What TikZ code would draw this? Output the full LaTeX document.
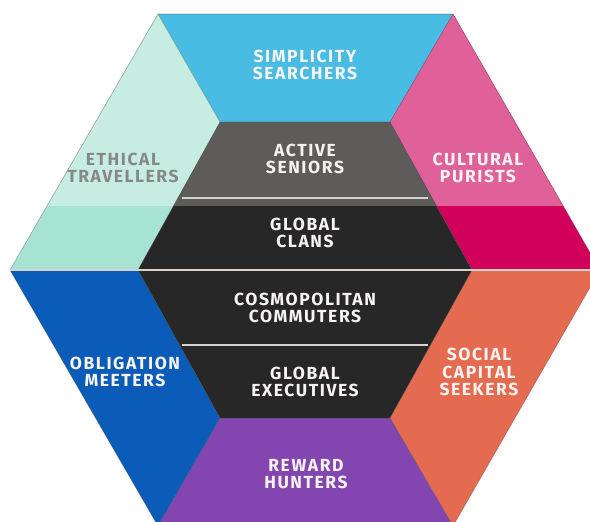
\documentclass[tikz,border=0pt]{standalone}
\usepackage{fontspec}
\newfontfamily\segfont[LetterSpace=9]{Fira Sans}

\definecolor{simplicity}{HTML}{48BCE3}
\definecolor{ethicaltop}{HTML}{C7ECE2}
\definecolor{ethical}{HTML}{A6E3D3}
\definecolor{culturaltop}{HTML}{E0609A}
\definecolor{cultural}{HTML}{D1005B}
\definecolor{seniors}{HTML}{5D5C5A}
\definecolor{core}{HTML}{272727}
\definecolor{obligation}{HTML}{0B5CB9}
\definecolor{reward}{HTML}{8346B0}
\definecolor{social}{HTML}{E56B50}
\definecolor{labelwhite}{HTML}{F7F3F2}
\definecolor{labelgray}{HTML}{868886}
\definecolor{divgray}{HTML}{D6D3CE}

\tikzset{
  edge/.style={draw=black!70, draw opacity=0.45, line width=0.6pt},
  segment/.style={font=\segfont\bfseries\fontsize{17.5}{17.5}\selectfont, text=labelwhite, align=center, inner sep=0pt},
  divider/.style={draw=divgray, line width=1.8pt},
}

\begin{document}
\begin{tikzpicture}[x=1pt,y=-1pt]
    \useasboundingbox (0,0) rectangle (590,522);
    \clip (0,0) rectangle (590,522);
    % outer hexagon
    \coordinate (o1) at (158,14);
    \coordinate (o2) at (453,14);
    \coordinate (o3) at (600,270);
    \coordinate (o4) at (453,526);
    \coordinate (o5) at (158,526);
    \coordinate (o6) at (10,270);
    % inner hexagon
    \coordinate (i1) at (220,122);
    \coordinate (i2) at (390,122);
    \coordinate (i3) at (472,270);
    \coordinate (i4) at (390,418);
    \coordinate (i5) at (220,418);
    \coordinate (i6) at (138,270);

    \fill[simplicity] (o1) -- (o2) -- (i2) -- (i1) -- cycle;
    \fill[cultural] (o2) -- (o3) -- (i3) -- (i2) -- cycle;
    \fill[social] (i3) -- (o3) -- (o4) -- (i4) -- cycle;
    \fill[reward] (i5) -- (i4) -- (o4) -- (o5) -- cycle;
    \fill[obligation] (o6) -- (i6) -- (i5) -- (o5) -- cycle;
    \fill[ethical] (o1) -- (i1) -- (i6) -- (o6) -- cycle;
    \fill[core] (i1) -- (i2) -- (i3) -- (i4) -- (i5) -- (i6) -- cycle;

    % lighter upper band
    \begin{scope}
        \clip (0,0) rectangle (590,205);
        \fill[ethicaltop] (o1) -- (i1) -- (i6) -- (o6) -- cycle;
        \fill[culturaltop] (o2) -- (o3) -- (i3) -- (i2) -- cycle;
        \fill[seniors] (i1) -- (i2) -- (i3) -- (i4) -- (i5) -- (i6) -- cycle;
    \end{scope}

    \draw[edge] (o1) -- (o2) -- (o3) -- (o4) -- (o5) -- (o6) -- cycle;
    \draw[edge] (o1) -- (i1) -- (i2) -- (o2);
    \draw[edge] (i2) -- (i3) -- (i4) -- (o4);
    \draw[edge] (i4) -- (i5) -- (o5);
    \draw[edge] (i5) -- (i6) -- (i1);

    % dividers
    \coordinate (d1) at (182,198);
    \coordinate (d2) at (428,198);
    \coordinate (d3) at (182,345);
    \coordinate (d4) at (428,345);
    \draw[divider] (d1) -- (d2);
    \draw[divider] (d3) -- (d4);
    \draw[divgray, line width=1.2pt] (o6) -- (o3);

    \node[segment] (simp) at (305,65) {SIMPLICITY\\SEARCHERS};
    \node[segment] (seni) at (305,159) {ACTIVE\\SENIORS};
    \node[segment] (clan) at (305,233) {GLOBAL\\CLANS};
    \node[segment] (cosm) at (305,308) {COSMOPOLITAN\\COMMUTERS};
    \node[segment] (exec) at (305,382) {GLOBAL\\EXECUTIVES};
    \node[segment] (rewa) at (306,474) {REWARD\\HUNTERS};
    \node[segment, text=labelgray] (ethi) at (123,168) {ETHICAL\\TRAVELLERS};
    \node[segment] (cult) at (478,168) {CULTURAL\\PURISTS};
    \node[segment] (obli) at (125,372) {OBLIGATION\\MEETERS};
    \node[segment] (soci) at (479,372) {SOCIAL\\CAPITAL\\SEEKERS};
\end{tikzpicture}
\end{document}
